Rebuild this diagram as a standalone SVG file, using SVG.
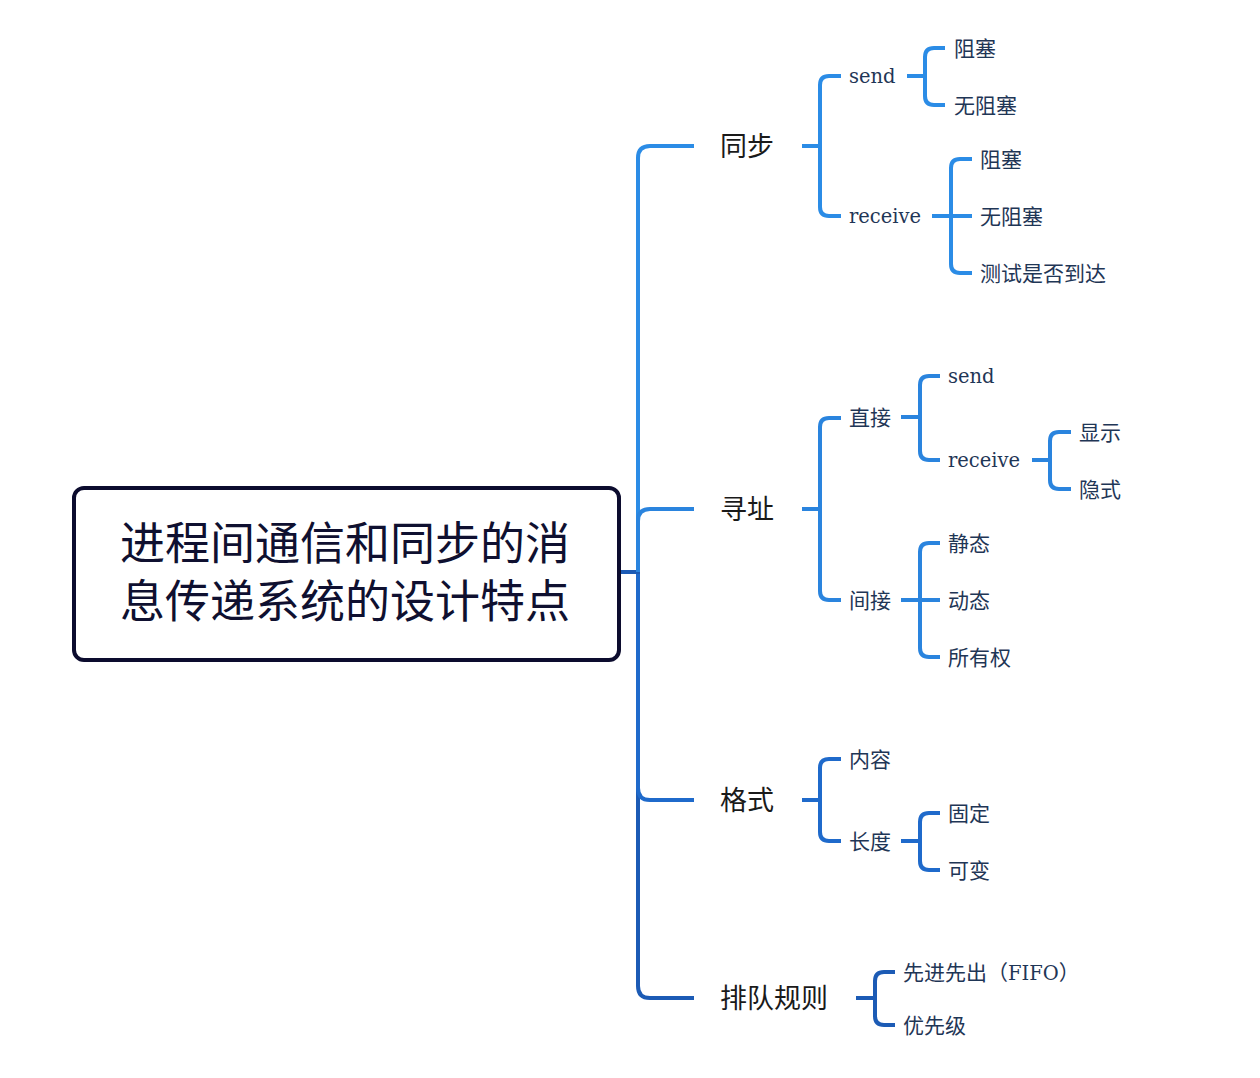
<svg xmlns="http://www.w3.org/2000/svg" width="1260" height="1078" viewBox="0 0 1260 1078">
  <style>
    .line { fill: none; stroke-width: 4; stroke-linecap: butt; stroke-linejoin: round; }
    .b1 { stroke: #2b8ce6; }
    .b2 { stroke: #2a84de; }
    .b3 { stroke: #1f6acb; }
    .b4 { stroke: #1c5bb5; }
    .root-text { font-family: "Noto Sans CJK SC", "Noto Sans", sans-serif; font-size: 45px; fill: #0f1030; text-anchor: middle; }
    .l1 { font-family: "Noto Sans CJK SC", "Noto Sans", sans-serif; font-size: 27px; fill: #1a1a1a; }
    .cn { font-family: "Noto Sans CJK SC", "Noto Sans", sans-serif; font-size: 21px; fill: #1f3656; }
    .en { font-family: "DejaVu Serif", "Liberation Serif", serif; font-size: 19.5px; fill: #1f3656; }
  </style>
  <rect width="1260" height="1078" fill="#ffffff"/>

  <!-- connectors -->
  <g id="connectors">
    <!-- trunk: root to first-level topics -->
    <path class="line b4" d="M638 572 V986 Q638 998 650 998 H694"/>
    <path class="line b3" d="M638 572 V788 Q638 800 650 800 H694"/>
    <path class="line b4" d="M619 572 H640"/>
    <path class="line b1" d="M638 572 V158 Q638 146 650 146 H694"/>
    <path class="line b2" d="M638 572 V521 Q638 509 650 509 H694"/>

    <!-- 同步 -->
    <path class="line b1" d="M802 146 H820"/>
    <path class="line b1" d="M841 76 H829 Q820 76 820 85 V207 Q820 216 829 216 H841"/>
    <path class="line b1" d="M907 76 H925"/>
    <path class="line b1" d="M945 48 H934 Q925 48 925 57 V96 Q925 105 934 105 H945"/>
    <path class="line b1" d="M932 216 H972"/>
    <path class="line b1" d="M972 159 H960 Q951 159 951 168 V264 Q951 273 960 273 H972"/>

    <!-- 寻址 -->
    <path class="line b2" d="M802 509 H820"/>
    <path class="line b2" d="M841 418 H829 Q820 418 820 427 V591 Q820 600 829 600 H841"/>
    <path class="line b2" d="M901 417 H920"/>
    <path class="line b2" d="M940 376 H929 Q920 376 920 385 V451 Q920 460 929 460 H940"/>
    <path class="line b2" d="M1032 460 H1050"/>
    <path class="line b2" d="M1071 432 H1059 Q1050 432 1050 441 V480 Q1050 489 1059 489 H1071"/>
    <path class="line b2" d="M901 600 H940"/>
    <path class="line b2" d="M940 543 H929 Q920 543 920 552 V648 Q920 657 929 657 H940"/>

    <!-- 格式 -->
    <path class="line b3" d="M802 800 H820"/>
    <path class="line b3" d="M841 759 H829 Q820 759 820 768 V832 Q820 841 829 841 H841"/>
    <path class="line b3" d="M901 841 H920"/>
    <path class="line b3" d="M940 813 H929 Q920 813 920 822 V861 Q920 870 929 870 H940"/>

    <!-- 排队规则 -->
    <path class="line b4" d="M856 998 H875"/>
    <path class="line b4" d="M895 972 H884 Q875 972 875 981 V1016 Q875 1025 884 1025 H895"/>
  </g>

  <!-- central topic -->
  <g id="root">
    <rect x="74" y="488" width="545" height="172" rx="10" ry="10" fill="#ffffff" stroke="#0c0c2e" stroke-width="4"/>
    <text class="root-text" x="345" y="560">进程间通信和同步的消<tspan x="345" dy="58">息传递系统的设计特点</tspan></text>
  </g>

  <!-- first-level topics -->
  <g id="t-sync"><text class="l1" x="720" y="156">同步</text></g>
  <g id="t-addr"><text class="l1" x="720" y="519">寻址</text></g>
  <g id="t-format"><text class="l1" x="720" y="810">格式</text></g>
  <g id="t-queue"><text class="l1" x="720" y="1008">排队规则</text></g>

  <!-- 同步 children -->
  <g id="t-sync-send"><text class="en" x="849" y="83">send</text></g>
  <g id="t-sync-send-block"><text class="cn" x="954" y="56">阻塞</text></g>
  <g id="t-sync-send-nonblock"><text class="cn" x="954" y="113">无阻塞</text></g>
  <g id="t-sync-recv"><text class="en" x="849" y="223">receive</text></g>
  <g id="t-sync-recv-block"><text class="cn" x="980" y="167">阻塞</text></g>
  <g id="t-sync-recv-nonblock"><text class="cn" x="980" y="224">无阻塞</text></g>
  <g id="t-sync-recv-test"><text class="cn" x="980" y="281">测试是否到达</text></g>

  <!-- 寻址 children -->
  <g id="t-addr-direct"><text class="cn" x="849" y="425">直接</text></g>
  <g id="t-addr-direct-send"><text class="en" x="948" y="383">send</text></g>
  <g id="t-addr-direct-recv"><text class="en" x="948" y="467">receive</text></g>
  <g id="t-addr-direct-recv-explicit"><text class="cn" x="1079" y="440">显示</text></g>
  <g id="t-addr-direct-recv-implicit"><text class="cn" x="1079" y="497">隐式</text></g>
  <g id="t-addr-indirect"><text class="cn" x="849" y="608">间接</text></g>
  <g id="t-addr-indirect-static"><text class="cn" x="948" y="551">静态</text></g>
  <g id="t-addr-indirect-dynamic"><text class="cn" x="948" y="608">动态</text></g>
  <g id="t-addr-indirect-owner"><text class="cn" x="948" y="665">所有权</text></g>

  <!-- 格式 children -->
  <g id="t-format-content"><text class="cn" x="849" y="767">内容</text></g>
  <g id="t-format-length"><text class="cn" x="849" y="849">长度</text></g>
  <g id="t-format-length-fixed"><text class="cn" x="948" y="821">固定</text></g>
  <g id="t-format-length-variable"><text class="cn" x="948" y="878">可变</text></g>

  <!-- 排队规则 children -->
  <g id="t-queue-fifo"><text class="cn" x="903" y="980">先进先出<tspan font-family="Noto Sans CJK SC, sans-serif">（</tspan><tspan font-family="DejaVu Serif, Liberation Serif, serif" font-size="19.5">FIFO</tspan><tspan font-family="Noto Sans CJK SC, sans-serif">）</tspan></text></g>
  <g id="t-queue-priority"><text class="cn" x="903" y="1033">优先级</text></g>
</svg>
